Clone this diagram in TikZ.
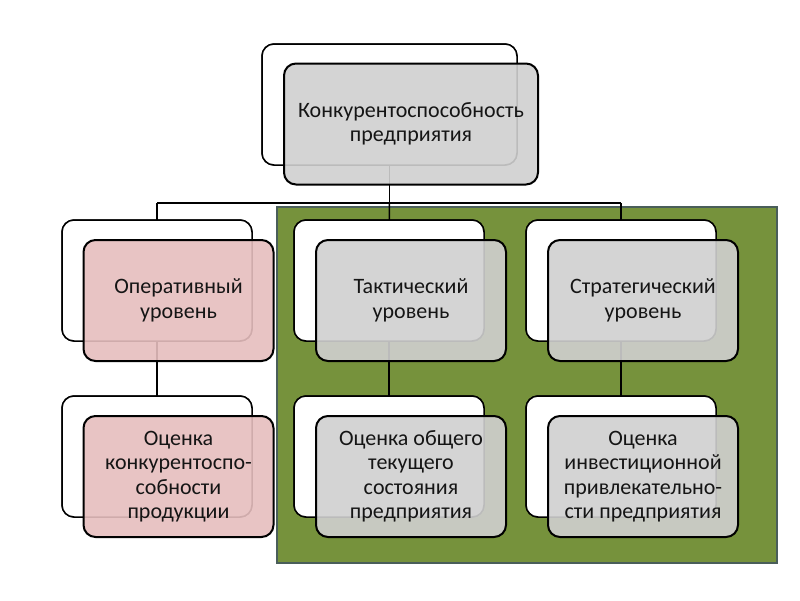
\documentclass[tikz,border=0pt]{standalone}
\usepackage{fontspec}
\setmainfont{Carlito}
\definecolor{olive}{HTML}{76923C}
\definecolor{oliveborder}{HTML}{4A5E5A}
\definecolor{frontgrey}{HTML}{D0D0D0}
\definecolor{frontpink}{HTML}{E6BEBE}
\definecolor{txt}{HTML}{151515}
\tikzset{
  backbox/.style={draw=black, line width=1.5pt, fill=white, rounded corners=12pt,
    minimum width=#1, minimum height=121pt, inner sep=0pt},
  backbox/.default=190pt,
  frontbox/.style={draw=black, line width=2pt, rounded corners=12pt,
    fill opacity=0.9, text opacity=1, minimum width=#1, minimum height=121pt,
    inner sep=0pt, align=center, text=txt,
    font=\fontsize{22}{24.5}\selectfont},
  frontbox/.default=190pt,
  greyf/.style={fill=frontgrey},
  pinkf/.style={fill=frontpink},
  conn/.style={draw=black, line width=1.5pt}
}
\begin{document}
\begin{tikzpicture}[x=1pt,y=-1pt]
\useasboundingbox[fill=white] (0,0) rectangle (800,600);
% green area
\node[draw=oliveborder, line width=2pt, fill=olive, minimum width=500pt, minimum height=356pt, inner sep=0pt] (green) at (526.5,385) {};
% back boxes (positions for connectors)
\node[backbox=255pt] (topb) at (389.5,104.5) {};
\node[backbox] (opb) at (157,280.5) {};
\node[backbox] (takb) at (389,280.5) {};
\node[backbox] (strb) at (621,280.5) {};
\node[backbox] (ocb1) at (157,456.5) {};
\node[backbox] (ocb2) at (389,456.5) {};
\node[backbox] (ocb3) at (621,456.5) {};
% connectors
\coordinate (hl) at (389.5,203);
\coordinate (hl1) at (157,203);
\coordinate (hl3) at (621,203);
\draw[conn] (topb.center) -- (hl);
\draw[conn] (hl1) -- (hl3);
\draw[conn] (hl1) -- (opb.center);
\draw[conn] (hl) -- (takb.center);
\draw[conn] (hl3) -- (strb.center);
\draw[conn] (opb.center) -- (ocb1.center);
\draw[conn] (takb.center) -- (ocb2.center);
\draw[conn] (strb.center) -- (ocb3.center);
% back boxes again, over the connectors
\node[backbox=255pt] (topb2) at (389.5,104.5) {};
\node[backbox] (opb2) at (157,280.5) {};
\node[backbox] (takb2) at (389,280.5) {};
\node[backbox] (strb2) at (621,280.5) {};
\node[backbox] (ocb12) at (157,456.5) {};
\node[backbox] (ocb22) at (389,456.5) {};
\node[backbox] (ocb32) at (621,456.5) {};
% front boxes
\node[frontbox=254pt, greyf] (top) at (411,124) {Конкурентоспособность\\предприятия};
\node[frontbox, pinkf] (op) at (178.5,300.5) {Оперативный\\уровень};
\node[frontbox, greyf] (tak) at (411,300.5) {Тактический\\уровень};
\node[frontbox, greyf] (str) at (643,300.5) {Стратегический\\уровень};
\node[frontbox, pinkf] (oc1) at (178.5,476.5) {Оценка\\конкурентоспо-\\собности\\продукции};
\node[frontbox, greyf] (oc2) at (411,476.5) {Оценка общего\\текущего\\состояния\\предприятия};
\node[frontbox, greyf] (oc3) at (643,476.5) {Оценка\\инвестиционной\\привлекательно-\\сти предприятия};
\end{tikzpicture}
\end{document}
